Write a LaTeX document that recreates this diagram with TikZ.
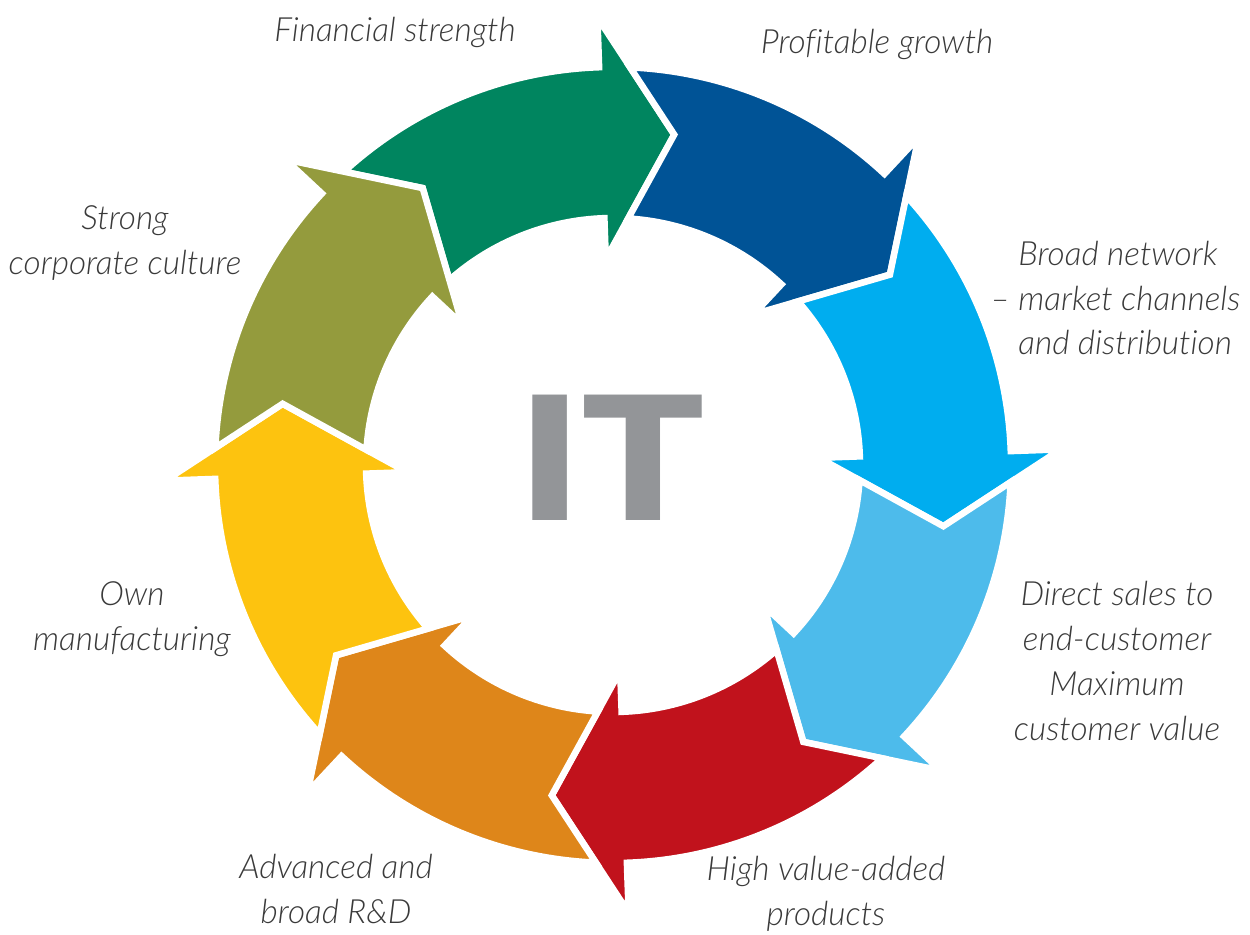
\documentclass[tikz,border=0pt]{standalone}
\usepackage{fontspec}
\setmainfont{Lato}
\newfontfamily\labelfont{Lato Light Italic}[Ligatures=NoCommon]
\newfontfamily\centrefont{Lato Black}

\definecolor{itgreen}{HTML}{00855F}
\definecolor{itnavy}{HTML}{005396}
\definecolor{itcyan}{HTML}{00ADEF}
\definecolor{itsky}{HTML}{4DBBEB}
\definecolor{itred}{HTML}{C1121C}
\definecolor{itorange}{HTML}{DE861A}
\definecolor{ityellow}{HTML}{FDC30F}
\definecolor{itolive}{HTML}{949B3D}
\definecolor{itgrey}{HTML}{939598}
\definecolor{textgrey}{HTML}{3A3A3A}

\tikzset{
	arrowpart/.style={draw=white, line width=3.7pt, line join=miter},
	caption/.style={font=\labelfont\fontsize{19}{25.5}\selectfont, text=textgrey, inner sep=0pt, align=center}
}

% one arrow of the ring: #1 colour, #2 angle of the head base
\newcommand{\cyclearrow}[2]{%
	\filldraw [arrowpart, fill=#1]
		({#2+40.53}:398) arc [start angle={#2+40.53}, end angle={#2}, radius=398]
		-- (#2:448) -- ({#2-12.5}:336) -- (#2:206) -- (#2:247)
		arc [start angle={#2}, end angle={#2+39.48}, radius=247]
		-- ({#2+32.5}:336) -- cycle;
}

\begin{document}
\begin{tikzpicture}[x=0.02cm, y=0.02cm]

	\useasboundingbox (0,0) rectangle (1250,934);

	% ring of arrows
	\begin{scope}[shift={(613,469)}]
		\cyclearrow{itgreen}{92}
		\cyclearrow{itnavy}{47}
		\cyclearrow{itcyan}{2}
		\cyclearrow{itsky}{-43}
		\cyclearrow{itred}{-88}
		\cyclearrow{itorange}{-133}
		\cyclearrow{ityellow}{-178}
		\cyclearrow{itolive}{137}
	\end{scope}

	% centre
	\node [font=\centrefont\fontsize{98}{98}\selectfont, text=itgrey, inner sep=0pt, xscale=1.18] (it) at (612,476) {IT};

	% labels
	\node [caption] (financial) at (395,902) {Financial strength};
	\node [caption] (growth) at (877,890) {Profitable growth};
	\node [caption, align=left, anchor=west] (network) at (1018,636)
		{Broad network\\\llap{– }market channels\\and distribution};
	\node [caption] (sales) at (1117,273)
		{Direct sales to\\end-customer\\Maximum\\customer value};
	\node [caption] (products) at (826,40) {High value-added\\products};
	\node [caption] (research) at (336,45) {Advanced and\\broad R\&D};
	\node [caption] (manufacturing) at (132,315) {Own\\manufacturing};
	\node [caption] (culture) at (125,691) {Strong\\corporate culture};

\end{tikzpicture}
\end{document}
